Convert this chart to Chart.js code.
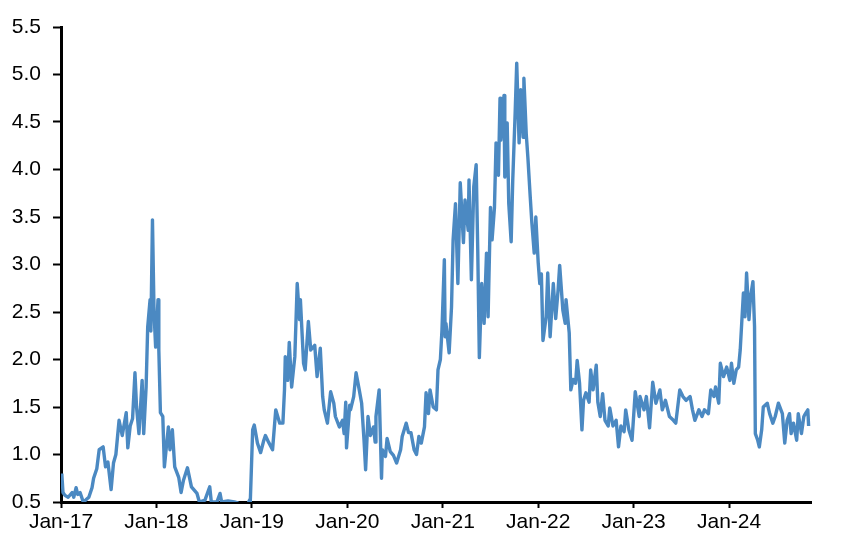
<!DOCTYPE html>
<html>
<head>
<meta charset="utf-8">
<script src="https://cdn.jsdelivr.net/npm/chart.js@4/dist/chart.umd.min.js"></script>
<style>
  html, body { margin: 0; padding: 0; background: #ffffff; }
  #wrap { width: 852px; height: 542px; }
</style>
</head>
<body>
<div id="wrap"><canvas id="c" width="852" height="542"></canvas></div>
<script>
// X tick labels (one per January, months since Jan-17)
const tickLabels = ["Jan-17","Jan-18","Jan-19","Jan-20","Jan-21","Jan-22","Jan-23","Jan-24"];

// Time position of each observation, in months since Jan 2017
const months = [
  0.1,0.25,0.5,0.9,1.4,1.6,1.9,2.1,2.4,2.8,3.1,3.5,3.9,4.1,4.5,4.8,5.3,5.6,5.9,6.3,6.6,6.9,7.3,7.7,8.2,8.4,8.7,9.0,9.3,9.5,9.8,10.2,10.4,10.7,10.9,11.2,11.3,11.5,11.7,11.9,
  12.2,12.3,12.5,12.8,13.0,13.5,13.7,14.0,14.3,14.8,15.1,15.4,15.9,16.4,17.1,17.4,18.1,18.7,18.9,19.6,20.0,20.2,21.0,21.8,22.2,22.8,23.5,23.7,23.8,
  24.1,24.3,24.7,25.1,25.5,25.7,26.1,26.6,27.0,27.5,27.9,28.1,28.2,28.5,28.7,29.0,29.4,29.7,30.0,30.1,30.5,30.7,31.1,31.4,31.9,32.2,32.6,32.9,33.1,33.5,33.9,34.3,34.5,35.0,35.4,35.6,35.8,35.9,
  36.3,36.4,36.8,37.1,37.5,37.8,38.1,38.3,38.6,38.9,39.3,39.5,39.6,40.0,40.3,40.4,40.8,41.0,41.4,41.8,42.2,42.7,42.9,43.4,43.7,44.0,44.4,44.7,45.0,45.3,45.7,45.9,46.2,46.4,46.8,47.2,47.4,47.7,47.9,
  48.2,48.3,48.4,48.8,49.1,49.3,49.6,49.9,50.2,50.6,50.8,51.2,51.3,51.6,51.9,52.2,52.4,52.6,52.9,53.2,53.5,53.7,54.0,54.2,54.5,54.7,55.0,55.2,55.3,55.7,55.8,56.1,56.3,56.6,56.8,57.1,57.3,57.6,57.8,58.1,58.2,58.5,58.7,59.0,59.2,59.5,59.7,
  60.0,60.2,60.4,60.6,61.0,61.2,61.5,61.9,62.2,62.5,62.7,63.1,63.4,63.5,63.9,64.1,64.4,64.7,64.9,65.2,65.5,65.7,66.0,66.4,66.6,66.9,67.3,67.5,67.8,68.1,68.4,68.8,69.0,69.4,69.8,70.1,70.4,70.8,71.0,71.4,71.8,
  72.2,72.7,72.8,73.3,73.6,74.0,74.4,74.8,75.3,75.6,76.0,76.5,77.0,77.3,77.8,78.2,78.6,79.1,79.4,79.7,80.2,80.6,80.9,81.4,81.7,82.1,82.3,82.7,82.9,83.3,83.7,
  84.1,84.3,84.6,84.9,85.2,85.4,85.8,86.0,86.2,86.5,86.7,87.0,87.2,87.3,87.6,87.8,88.1,88.3,88.8,89.1,89.5,89.8,90.2,90.7,91.0,91.3,91.6,91.8,92.1,92.5,92.7,93.1,93.4,93.6,93.9,94.0
];

// Series values
const values = [
  0.80,0.60,0.57,0.55,0.60,0.55,0.65,0.58,0.60,0.50,0.52,0.55,0.65,0.75,0.85,1.05,1.08,0.87,0.92,0.63,0.91,1.00,1.36,1.20,1.44,1.07,1.30,1.38,1.86,1.50,1.22,1.78,1.22,1.71,2.34,2.63,2.30,3.47,2.49,2.13,
  2.63,2.10,1.44,1.40,0.87,1.29,1.05,1.26,0.87,0.76,0.60,0.73,0.86,0.66,0.59,0.50,0.52,0.66,0.50,0.50,0.59,0.50,0.51,0.50,0.49,0.45,0.48,0.52,0.50,
  1.26,1.31,1.12,1.02,1.15,1.20,1.13,1.05,1.47,1.33,1.33,1.68,2.03,1.78,2.18,1.71,2.03,2.80,2.42,2.63,1.96,1.89,2.40,2.10,2.15,1.82,2.12,1.61,1.47,1.33,1.66,1.54,1.40,1.29,1.36,1.22,1.55,1.07,
  1.52,1.47,1.61,1.86,1.68,1.54,1.15,0.84,1.40,1.20,1.29,1.13,1.40,1.68,0.75,1.05,0.98,1.17,1.03,0.99,0.91,1.05,1.19,1.33,1.23,1.23,1.05,1.00,1.19,1.12,1.29,1.65,1.43,1.68,1.50,1.47,1.89,2.00,2.31,
  3.05,2.24,2.38,2.07,2.55,3.26,3.64,2.80,3.86,3.23,3.68,3.36,3.89,2.84,3.82,4.05,3.15,2.02,2.80,2.38,3.12,2.45,3.60,3.26,3.60,4.28,3.94,4.75,4.31,4.78,3.92,4.49,3.64,3.24,3.89,4.59,5.12,4.28,4.84,4.34,4.96,4.37,4.13,3.71,3.44,3.12,3.50,
  3.02,2.80,2.90,2.20,2.45,2.91,2.24,2.80,2.43,2.73,2.99,2.52,2.38,2.63,2.28,1.68,1.79,1.75,1.99,1.75,1.26,1.57,1.65,1.55,1.89,1.68,1.94,1.55,1.40,1.64,1.36,1.30,1.49,1.30,1.36,1.08,1.30,1.24,1.47,1.26,1.15,
  1.66,1.40,1.61,1.47,1.61,1.28,1.76,1.54,1.68,1.47,1.57,1.40,1.36,1.33,1.68,1.61,1.57,1.61,1.47,1.36,1.47,1.40,1.47,1.43,1.68,1.61,1.71,1.54,1.96,1.82,1.92,
  1.78,1.96,1.75,1.89,1.92,2.10,2.70,2.45,2.91,2.42,2.66,2.82,2.35,1.22,1.15,1.08,1.26,1.50,1.54,1.43,1.33,1.40,1.54,1.43,1.12,1.36,1.43,1.22,1.33,1.15,1.43,1.22,1.40,1.43,1.47,1.30
];

const points = months.map((m, i) => ({ x: m, y: values[i] }));

const tickFont = { family: "'Liberation Sans', Arial, sans-serif", size: 21 };

new Chart(document.getElementById('c'), {
  type: 'line',
  data: {
    datasets: [{
      data: points,
      borderColor: '#4b89c2',
      borderWidth: 3.4,
      borderJoinStyle: 'round',
      pointRadius: 0,
      tension: 0,
      fill: false
    }]
  },
  options: {
    responsive: false,
    animation: false,
    devicePixelRatio: 1,
    layout: { padding: { left: 0, right: 41, top: 27, bottom: 0 } },
    plugins: { legend: { display: false }, tooltip: { enabled: false } },
    scales: {
      x: {
        type: 'linear',
        min: 0,
        max: 94.3,
        afterFit: (s) => { s.height = 40; },
        border: { display: true, color: '#000', width: 3 },
        grid: { display: true, drawOnChartArea: false, drawTicks: true, tickLength: 6, tickColor: '#000', tickWidth: 2 },
        ticks: {
          stepSize: 12,
          includeBounds: false,
          autoSkip: false,
          maxRotation: 0,
          color: '#000',
          font: tickFont,
          padding: 2,
          callback: (v) => tickLabels[Math.round(v / 12)]
        }
      },
      y: {
        type: 'linear',
        min: 0.5,
        max: 5.5,
        afterFit: (s) => { s.width = 61; },
        border: { display: true, color: '#000', width: 3 },
        grid: { display: true, drawOnChartArea: false, drawTicks: true, tickLength: 8, tickColor: '#000', tickWidth: 2 },
        ticks: {
          stepSize: 0.5,
          color: '#000',
          font: tickFont,
          padding: 12,
          callback: (v) => Number(v).toFixed(1)
        }
      }
    }
  }
});
</script>
</body>
</html>
